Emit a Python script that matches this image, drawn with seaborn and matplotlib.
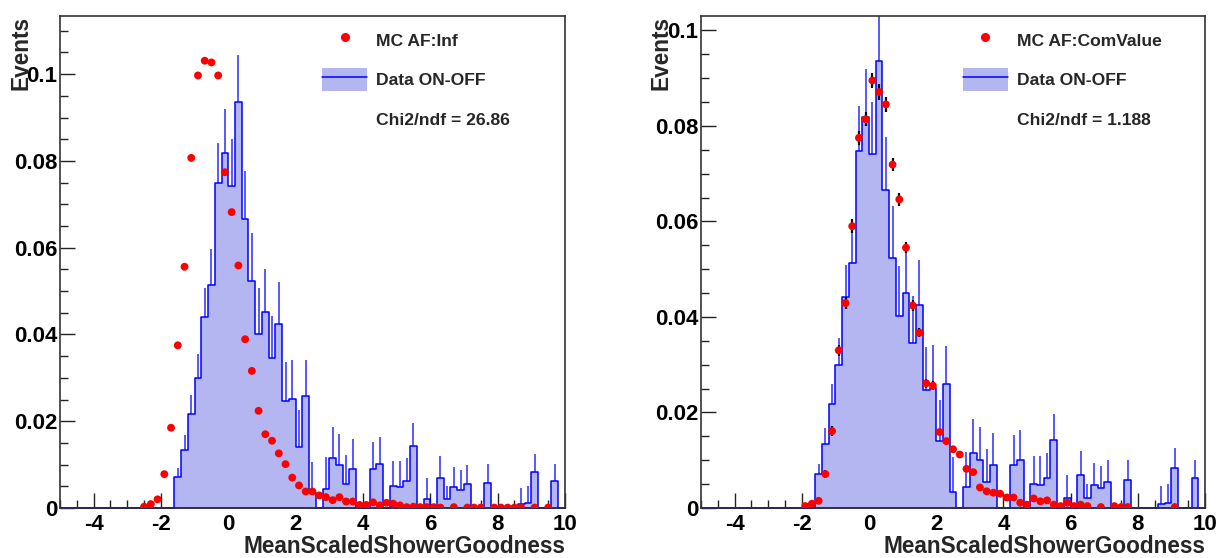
import numpy as np
import matplotlib
matplotlib.use("Agg")
import matplotlib.pyplot as plt
import seaborn as sns
from matplotlib.lines import Line2D
from matplotlib.patches import Patch
from matplotlib.ticker import MultipleLocator, FuncFormatter

# 75 bins of width 0.2 between -5 and 10
bin_edges = np.linspace(-5, 10, 76)
centers = 0.5 * (bin_edges[:-1] + bin_edges[1:])

# Data ON-OFF (same histogram in both panels), bins -5 .. 10
data_vals = [0.0] * 17 + [
    0.0072, 0.0133, 0.0217, 0.0299, 0.0441, 0.0513, 0.0748, 0.0819, 0.0742, 0.0936,
    0.0665, 0.0523, 0.0401, 0.0451, 0.0346, 0.0424, 0.0246, 0.0251, 0.0141, 0.0259,
    0.0034, 0.0, 0.0044, 0.0115, 0.0100, 0.0055, 0.0089, 0.0, 0.0, 0.0089,
    0.0101, 0.0, 0.0051, 0.0049, 0.0062, 0.0142, 0.0, 0.0020, 0.0, 0.0070,
    0.0020, 0.0049, 0.0041, 0.0055, 0.0, 0.0, 0.0058, 0.0, 0.0, 0.0,
    0.0, 0.0009, 0.0011, 0.0083, 0.0, 0.0, 0.0063, 0.0,
]
data_err = [0.0] * 17 + [
    0.0020, 0.0035, 0.0043, 0.0057, 0.0067, 0.0085, 0.0094, 0.0100, 0.0108, 0.0108,
    0.0111, 0.0110, 0.0106, 0.0099, 0.0097, 0.0096, 0.0091, 0.0091, 0.0085, 0.0081,
    0.0072, 0.0, 0.0073, 0.0072, 0.0070, 0.0068, 0.0069, 0.0, 0.0, 0.0063,
    0.0062, 0.0, 0.0057, 0.0059, 0.0053, 0.0055, 0.0, 0.0049, 0.0, 0.0049,
    0.0030, 0.0046, 0.0047, 0.0045, 0.0, 0.0, 0.0043, 0.0, 0.0, 0.0,
    0.0, 0.0038, 0.0039, 0.0042, 0.0, 0.0, 0.0038, 0.0,
]

nan = np.nan
# MC AF:Inf (left panel)
mc_inf = [nan] * 12 + [
    0.0003, 0.0009, 0.0020, 0.0078, 0.0185, 0.0375, 0.0556, 0.0807, 0.0997, 0.1031,
    0.1027, 0.0997, 0.0774, 0.0682, 0.0559, 0.0389, 0.0316, 0.0224, 0.0170, 0.0155,
    0.0126, 0.0101, 0.0070, 0.0052, 0.0038, 0.0038, 0.0029, 0.0025, 0.0018, 0.0025,
    0.0015, 0.0015, 0.0007, 0.0007, 0.0013, 0.0006, 0.0012, 0.0010, 0.0006, 0.0002,
    0.0003, 0.0002, 0.0002, 0.0002, 0.0001, nan, 0.0002, nan, 0.0001, 0.0001,
    0.0001, nan, 0.0001, 0.0001, 0.0001, 0.0001, 0.0001, nan, 0.0001, nan,
    0.0001, nan, nan,
]

# MC AF:ComValue (right panel)
mc_com = [nan] * 15 + [
    0.0004, 0.0009, 0.0015, 0.0071, 0.0161, 0.0330, 0.0429, 0.0590, 0.0775, 0.0814,
    0.0895, 0.0871, 0.0845, 0.0719, 0.0646, 0.0545, 0.0424, 0.0367, 0.0261, 0.0256,
    0.0159, 0.0140, 0.0123, 0.0112, 0.0082, 0.0075, 0.0043, 0.0035, 0.0032, 0.0030,
    0.0022, 0.0022, 0.0011, 0.0007, 0.0020, 0.0014, 0.0016, 0.0007, 0.0004, 0.0011,
    0.0004, 0.0007, 0.0004, nan, 0.0002, nan, 0.0004, 0.0002, 0.0002, nan,
    nan, nan, nan, nan, nan, 0.0002, nan, nan, nan, nan,
]
mc_com_err = [nan] * 15 + [
    0.0002, 0.0003, 0.0004, 0.0008, 0.0010, 0.0011, 0.0013, 0.0014, 0.0015, 0.0015,
    0.0016, 0.0016, 0.0015, 0.0014, 0.0013, 0.0012, 0.0011, 0.0010, 0.0009, 0.0009,
    0.0007, 0.0007, 0.0006, 0.0006, 0.0005, 0.0005, 0.0004, 0.0004, 0.0003, 0.0003,
    0.0003, 0.0003, 0.0002, 0.0002, 0.0003, 0.0002, 0.0002, 0.0002, 0.0001, 0.0002,
    0.0001, 0.0002, 0.0001, nan, 0.0001, nan, 0.0001, 0.0001, 0.0001, nan,
    nan, nan, nan, nan, nan, 0.0001, nan, nan, nan, nan,
]

x_label = "MeanScaledShowerGoodness"
y_label = "Events"

fill_color = "#b4b6f1"
line_color = "#0000ff"
err_color = "#3c3cff"

sns.set_style("ticks")
plt.rcParams["font.family"] = ["Liberation Sans", "DejaVu Sans"]
plt.rcParams["font.weight"] = "bold"
plt.rcParams["axes.unicode_minus"] = False

fig = plt.figure(figsize=(12.16, 5.58), dpi=100)
ax_left = fig.add_axes([0.0493, 0.0896, 0.4153, 0.8817])
ax_right = fig.add_axes([0.5765, 0.0896, 0.4145, 0.8817])


def draw_panel(ax, mc_vals, mc_err, mc_label, chi_text, ymax, ylab_x):
    vals = np.array(data_vals)
    errs = np.array(data_err)
    has_err = errs > 0
    # data error bars (lower half gets hidden by the fill, like ROOT)
    ax.vlines(centers[has_err], vals[has_err] - errs[has_err], vals[has_err] + errs[has_err],
              color=err_color, lw=1.2, zorder=1)
    sns.histplot(x=centers, weights=vals, bins=bin_edges.tolist(), element="step", fill=True,
                 facecolor=fill_color, edgecolor=line_color, linewidth=1.1, alpha=1,
                 ax=ax, zorder=2)
    mc = np.array(mc_vals)
    if mc_err is not None:
        ax.errorbar(centers, mc, yerr=np.array(mc_err), fmt="none", ecolor="black",
                    elinewidth=1.6, zorder=3)
    sns.scatterplot(x=centers, y=mc, color="red", s=32, edgecolor="none", ax=ax, zorder=4)

    ax.set_xlim(-5, 10)
    ax.set_ylim(0, ymax)
    ax.xaxis.set_major_locator(MultipleLocator(2))
    ax.xaxis.set_minor_locator(MultipleLocator(0.5))
    ax.yaxis.set_major_locator(MultipleLocator(0.02))
    ax.yaxis.set_minor_locator(MultipleLocator(0.005))
    fmt = FuncFormatter(lambda v, p: "%g" % round(v, 4))
    ax.xaxis.set_major_formatter(fmt)
    ax.yaxis.set_major_formatter(fmt)
    ax.tick_params(which="both", direction="in", top=False, right=False, width=1.0,
                   colors="#222222", labelcolor="black")
    ax.tick_params(which="major", length=10.8, labelsize=16)
    ax.tick_params(which="minor", length=5.6)
    ax.tick_params(axis="x", pad=4)
    ax.tick_params(axis="y", pad=2)
    for t in ax.get_xticklabels() + ax.get_yticklabels():
        t.set_fontweight("bold")
    for s in ax.spines.values():
        s.set_visible(True)
        s.set_linewidth(1.2)
        s.set_color("#333333")

    ax.set_xlabel(x_label, loc="right", fontsize=16.3, fontweight="bold", labelpad=0)
    ax.set_ylabel(y_label, loc="top", fontsize=16.3, fontweight="bold")
    ax.yaxis.set_label_coords(ylab_x, 1.0)

    handles = [
        Line2D([], [], marker="o", color="red", ls="none", ms=5.5),
        (Patch(facecolor=fill_color, edgecolor="none"), Line2D([], [], color=line_color, lw=1.1)),
        Line2D([], [], ls="none"),
    ]
    labels = [mc_label, "Data ON-OFF", chi_text]
    ax.legend(handles, labels, loc="upper left", bbox_to_anchor=(0.519, 0.975),
              frameon=False, borderpad=0, borderaxespad=0, handlelength=2.57,
              handleheight=1.66, handletextpad=0.51, labelspacing=0.95,
              prop={"size": 12.6, "weight": "bold"})


draw_panel(ax_left, mc_inf, None, "MC AF:Inf", "Chi2/ndf = 26.86", 0.1134, -0.0535)
draw_panel(ax_right, mc_com, mc_com_err, "MC AF:ComValue", "Chi2/ndf = 1.188", 0.103, -0.0575)

fig.savefig("out.png", dpi=100)
